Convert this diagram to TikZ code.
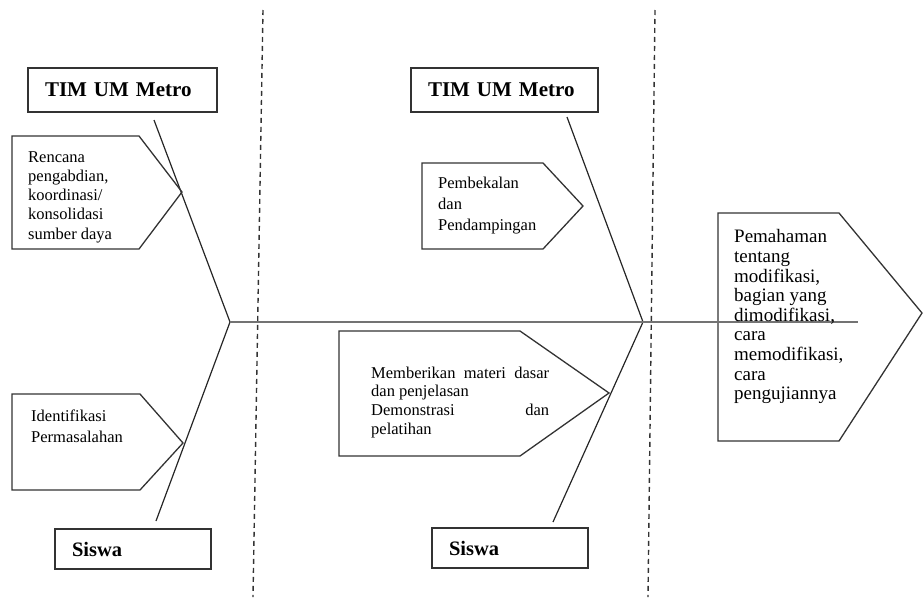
\documentclass[tikz,border=0pt]{standalone}
\usepackage{fontspec}
\setmainfont{Liberation Serif}
\usepackage{tikz}
\usetikzlibrary{positioning,calc}
\tikzstyle{judul} = [draw=black!80, line width=1.3pt, minimum height=44pt, inner xsep=17pt, text width=155pt, align=left, font=\fontsize{21}{25}\selectfont\bfseries]
\tikzstyle{peserta} = [draw=black!80, line width=1.3pt, minimum height=40pt, inner xsep=17pt, text width=122pt, align=left, font=\fontsize{20.5}{24}\selectfont\bfseries]
\tikzstyle{isi} = [anchor=north west, inner sep=0pt, align=left]
\tikzstyle{panah} = [draw=black!80, line width=1.3pt, line join=miter]
\tikzstyle{tulang} = [draw=black!85, line width=1.2pt]
\tikzstyle{punggung} = [draw=black!55, line width=2.2pt]
\tikzstyle{batas} = [draw=black!80, line width=1.4pt, dash pattern=on 5pt off 4pt]

\begin{document}
\begin{tikzpicture}[x=1pt,y=-1pt]
    \useasboundingbox (0,0) rectangle (923,597);

    % Garis batas
    \draw[batas] (263,10) -- (253,597);
    \draw[batas] (655,10) -- (648,597);

    % Kotak judul
    \node[judul] (tim1) at (122.5,90) {TIM UM Metro};
    \node[judul, text width=153pt] (tim2) at (504.5,90) {TIM UM Metro};
    \node[peserta] (siswa1) at (133,549) {Siswa};
    \node[peserta] (siswa2) at (510,548) {Siswa};

    % Titik tulang
    \coordinate (v1) at (230,322);
    \coordinate (v2) at (643,322);
    \coordinate (ujung) at (858,322);
    \coordinate (a1) at (154,120);
    \coordinate (b1) at (156,521);
    \coordinate (a2) at (567,117);
    \coordinate (b2) at (553,522);

    % Tulang
    \draw[tulang] (a1) -- (v1) -- (b1);
    \draw[tulang] (a2) -- (v2) -- (b2);

    % Kotak panah
    \draw[panah] (12,136) -- (139,136) -- (182,192) coordinate (rencana tip) -- (139,249) -- (12,249) -- cycle;
    \draw[panah] (12,394) -- (140,394) -- (183,443) coordinate (identifikasi tip) -- (140,490) -- (12,490) -- cycle;
    \draw[panah] (422,163) -- (543,163) -- (583,206) coordinate (pembekalan tip) -- (543,249) -- (422,249) -- cycle;
    \draw[panah] (339,331) -- (520,331) -- (609,393) coordinate (materi tip) -- (520,456) -- (339,456) -- cycle;
    \draw[panah] (718,213) -- (839,213) -- (922,313) coordinate (hasil tip) -- (839,441) -- (718,441) -- cycle;

    % Tulang punggung
    \draw[punggung] (v1) -- (v2) -- (ujung);

    % Isi kotak
    \node[isi, font=\fontsize{16.5}{19.25}\selectfont] (rencana) at (28,151) {Rencana\\pengabdian,\\koordinasi/\\konsolidasi\\sumber daya};
    \node[isi, font=\fontsize{16.5}{21.5}\selectfont] (identifikasi) at (31,409.5) {Identifikasi\\Permasalahan};
    \node[isi, font=\fontsize{16.5}{21}\selectfont] (pembekalan) at (438,176.5) {Pembekalan\\dan\\Pendampingan};
    \node[isi, font=\fontsize{16.5}{18.7}\selectfont] (materi) at (371,366.5) {\makebox[178pt][s]{Memberikan materi dasar}\\dan penjelasan\\\makebox[178pt][s]{Demonstrasi dan}\\pelatihan};
    \node[isi, font=\fontsize{19}{19.6}\selectfont] (hasil) at (734,229.5) {Pemahaman\\tentang\\modifikasi,\\bagian yang\\dimodifikasi,\\cara\\memodifikasi,\\cara\\pengujiannya};
\end{tikzpicture}
\end{document}
